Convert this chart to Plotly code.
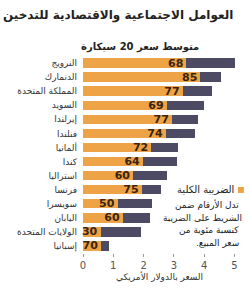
import plotly.graph_objects as go

countries = ["النرويج", "الدنمارك", "المملكة المتحدة", "السويد", "إيرلندا", "فنلندا",
             "ألمانيا", "كندا", "استراليا", "فرنسا", "سويسرا", "اليابان",
             "الولايات المتحدة", "إسبانيا"]
total_price = [5.02, 4.56, 4.27, 4.00, 3.81, 3.70, 3.13, 3.10, 2.77, 2.58, 2.29, 2.20, 1.93, 0.86]
tax_pct = [68, 85, 77, 69, 77, 74, 72, 64, 60, 75, 50, 60, 30, 70]
x_ticks = [0, 1, 2, 3, 4, 5]

tax_part = [t * p / 100 for t, p in zip(total_price, tax_pct)]
rest_part = [t - x for t, x in zip(total_price, tax_part)]

ORANGE = "#eea346"
DARK = "#4d4b63"
FONT = "DejaVu Sans"

fig = go.Figure()
fig.add_trace(go.Bar(
    y=countries, x=tax_part, orientation="h", marker=dict(color=ORANGE, line=dict(width=0)),
    text=[str(p) for p in tax_pct], textposition="inside", insidetextanchor="end",
    textfont=dict(family=FONT, size=11, color="#3a2410", weight="bold"),
    textangle=0, cliponaxis=False, showlegend=False, hoverinfo="skip"))
fig.add_trace(go.Bar(
    y=countries, x=rest_part, orientation="h", marker=dict(color=DARK, line=dict(width=0)),
    showlegend=False, hoverinfo="skip"))

fig.update_layout(
    barmode="stack", bargap=0.33,
    width=250, height=291,
    margin=dict(l=83, r=12, t=56, b=35),
    paper_bgcolor="white", plot_bgcolor="white",
    uniformtext=dict(minsize=8, mode="show"),
    xaxis=dict(range=[0, 5.05], tickvals=x_ticks, showgrid=False, zeroline=False, showline=False,
               ticks="outside", ticklen=3, tickcolor="#999", tickfont=dict(family=FONT, size=10, color="#555"),
               title=dict(text="السعر بالدولار الأمريكي", font=dict(family=FONT, size=9, color="#333"), standoff=2)),
    yaxis=dict(autorange="reversed", showgrid=False, zeroline=False, showline=False,
               ticks="", ticklabelstandoff=5, tickfont=dict(family=FONT, size=9, color="#333")),
)

annotations = [
    dict(x=118, y=15, text="<b>العوامل الاجتماعية والاقتصادية للتدخين</b>", size=12, anchor="center"),
    dict(x=141, y=47, text="<b>متوسط سعر 20 سيكارة</b>", size=10, anchor="center"),
    dict(x=238, y=192, text="الضريبة الكلية", size=10, anchor="right"),
    dict(x=243, y=207, text="تدل الأرقام ضمن", size=9, anchor="right"),
    dict(x=246, y=220, text="الشريط على الضريبة", size=9, anchor="right"),
    dict(x=243, y=233, text="كنسبة مئوية من", size=9, anchor="right"),
    dict(x=243, y=246, text="سعر المبيع.\u200f", size=9, anchor="right"),
]
anns = []
for a in annotations:
    anns.append(dict(xref="paper", yref="paper",
                     x=(a["x"] - 83) / (250 - 83 - 12), y=1 - (a["y"] - 56) / (291 - 56 - 35),
                     text=a["text"], showarrow=False, xanchor=a["anchor"], yanchor="middle",
                     font=dict(family=FONT, size=a["size"], color="#222")))
fig.layout.annotations = anns

fig.add_shape(type="rect", xref="paper", yref="paper",
              x0=(240 - 83) / 155, x1=(246 - 83) / 155,
              y0=1 - (195 - 56) / 200, y1=1 - (189 - 56) / 200,
              fillcolor=ORANGE, line=dict(width=0))

fig.write_html("out.html")
